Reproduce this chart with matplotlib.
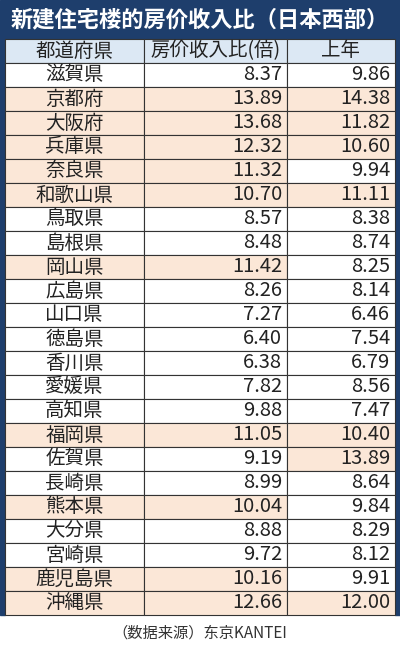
import matplotlib.pyplot as plt
from matplotlib.patches import Rectangle

plt.rcParams['font.family'] = ['Noto Sans CJK JP', 'DejaVu Sans']

prefs = ['滋賀県', '京都府', '大阪府', '兵庫県', '奈良県', '和歌山県', '鳥取県', '島根県',
         '岡山県', '広島県', '山口県', '徳島県', '香川県', '愛媛県', '高知県', '福岡県',
         '佐賀県', '長崎県', '熊本県', '大分県', '宮崎県', '鹿児島県', '沖縄県']
ratio = [8.37, 13.89, 13.68, 12.32, 11.32, 10.70, 8.57, 8.48, 11.42, 8.26, 7.27, 6.40,
         6.38, 7.82, 9.88, 11.05, 9.19, 8.99, 10.04, 8.88, 9.72, 10.16, 12.66]
last_year = [9.86, 14.38, 11.82, 10.60, 9.94, 11.11, 8.38, 8.74, 8.25, 8.14, 6.46, 7.54,
             6.79, 8.56, 7.47, 10.40, 13.89, 8.64, 9.84, 8.29, 8.12, 9.91, 12.00]
headers = ['都道府県', '房价收入比(倍)', '上年']

W, H = 400, 648
fig = plt.figure(figsize=(4, 6.48), dpi=100)
ax = fig.add_axes([0, 0, 1, 1])
ax.set_xlim(0, W)
ax.set_ylim(H, 0)
ax.axis('off')

navy = '#1e3e6c'
shade = '#fbe7d7'
head_bg = '#dce8f4'
line = '#333333'

# title band
ax.add_patch(Rectangle((0, 0), W, 39, color=navy))
ax.text(W / 2, 20, '新建住宅楼的房价收入比（日本西部）', color='white', fontsize=16,
        fontweight='bold', ha='center', va='center')

cols = [5, 144, 287, 395]
top, rh = 39, 24.0
ax.add_patch(Rectangle((0, 39), 5, 576, color=navy))
ax.add_patch(Rectangle((395, 39), 5, 576, color=navy))

def cell(c, r, text, bg, align):
    x0, x1 = cols[c], cols[c + 1]
    y0 = top + r * rh
    ax.add_patch(Rectangle((x0, y0), x1 - x0, rh, facecolor=bg, edgecolor=line, lw=0.8))
    if align == 'center':
        ax.text((x0 + x1) / 2, y0 + rh / 2, text, fontsize=14, ha='center', va='center', color='#222222')
    else:
        ax.text(x1 - 5, y0 + rh / 2, text, fontsize=14.5, ha='right', va='center', color='#222222')

for c, h in enumerate(headers):
    cell(c, 0, h, head_bg, 'center')

for i, (p, a, b) in enumerate(zip(prefs, ratio, last_year)):
    r = i + 1
    cell(0, r, p, shade if a > 10 else 'white', 'center')
    cell(1, r, f'{a:.2f}', shade if a > 10 else 'white', 'right')
    cell(2, r, f'{b:.2f}', shade if b > 10 else 'white', 'right')

ax.text(W / 2, 633, '（数据来源）东京KANTEI', fontsize=11, ha='center', va='center', color='#333333')

fig.savefig('out.png', dpi=100)
